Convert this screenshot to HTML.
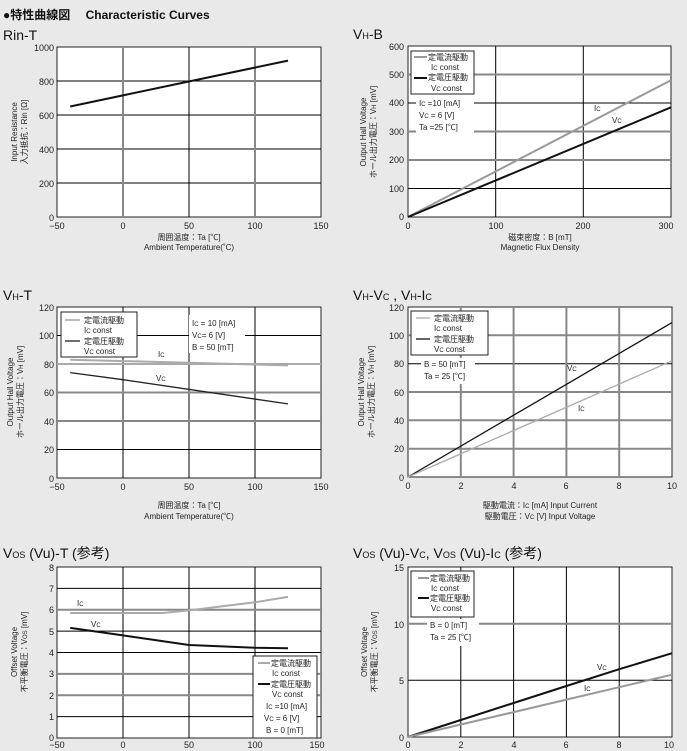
<!DOCTYPE html>
<html><head><meta charset="utf-8"><style>
html,body{margin:0;padding:0;background:#e9e9e9;}
svg{display:block;font-family:"Liberation Sans","Noto Sans CJK JP",sans-serif;}
.t{font-size:9px;fill:#222}
.s{font-size:8px;fill:#222}
.h{font-size:14px;fill:#111}
.g{stroke:#888;stroke-width:2}
.k{stroke:#000;stroke-width:1}
</style></head><body>
<svg width="687" height="751" viewBox="0 0 687 751" xmlns="http://www.w3.org/2000/svg">
<rect width="687" height="751" fill="#e9e9e9"/>
<text x="3" y="19" font-size="12" font-weight="bold" fill="#111">●特性曲線図　 Characteristic Curves</text>

<!-- Chart 1 Rin-T -->
<text x="3" y="40" class="h">Rin-T</text>
<rect x="57" y="47" width="264" height="170" fill="#fff" stroke="#222"/>
<g class="k"><line x1="57" y1="183" x2="321" y2="183"/><line x1="57" y1="149" x2="321" y2="149"/><line x1="57" y1="115" x2="321" y2="115"/><line x1="57" y1="81" x2="321" y2="81"/><line x1="189" y1="47" x2="189" y2="217"/></g>
<g class="g"><line x1="123" y1="47" x2="123" y2="217"/><line x1="255" y1="47" x2="255" y2="217"/></g>
<polyline points="70.2,106.5 288,60.6" fill="none" stroke="#111" stroke-width="2"/>
<g class="t" text-anchor="end"><text x="54" y="51">1000</text><text x="54" y="85">800</text><text x="54" y="119">600</text><text x="54" y="153">400</text><text x="54" y="187">200</text><text x="54" y="221">0</text></g>
<g class="t" text-anchor="middle"><text x="57" y="229">−50</text><text x="123" y="229">0</text><text x="189" y="229">50</text><text x="255" y="229">100</text><text x="321" y="229">150</text>
<text x="189" y="240" class="s">周囲温度：Ta [℃]</text><text x="189" y="250" class="s">Ambient Temperature(˚C)</text></g>
<g class="s" text-anchor="middle" transform="translate(22,132) rotate(-90)"><text x="0" y="-5">Input Resistance</text><text x="0" y="5">入力抵抗：Rin [Ω]</text></g>

<!-- Chart 2 VH-B -->
<text x="353" y="39" class="h">V<tspan font-size="9">H</tspan>-B</text>
<rect x="408" y="46" width="263" height="171" fill="#fff" stroke="#222"/>
<g class="k"><line x1="408" y1="188.5" x2="671" y2="188.5"/><line x1="408" y1="103" x2="671" y2="103"/><line x1="495.7" y1="46" x2="495.7" y2="217"/><line x1="583.3" y1="46" x2="583.3" y2="217"/></g>
<g class="g"><line x1="408" y1="160" x2="671" y2="160"/><line x1="408" y1="131.5" x2="671" y2="131.5"/><line x1="408" y1="74.5" x2="671" y2="74.5"/></g>
<line x1="408" y1="217" x2="671" y2="80.2" stroke="#999" stroke-width="2"/>
<line x1="408" y1="217" x2="671" y2="107.3" stroke="#111" stroke-width="2"/>
<rect x="411" y="51" width="63" height="43" fill="#fff" stroke="#222"/>
<line x1="414" y1="57" x2="427" y2="57" stroke="#999" stroke-width="2"/><line x1="414" y1="78" x2="427" y2="78" stroke="#111" stroke-width="2"/>
<g class="s"><text x="428" y="60">定電流駆動</text><text x="431" y="70">I<tspan font-size="6">C</tspan> const</text><text x="428" y="80">定電圧駆動</text><text x="431" y="91">V<tspan font-size="6">C</tspan> const</text>
<rect x="416" y="97" width="58" height="36" fill="#fff"/>
<text x="419" y="106">I<tspan font-size="6">C</tspan>  =10 [mA]</text><text x="419" y="118">V<tspan font-size="6">C</tspan>  = 6  [V]</text><text x="419" y="130">Ta   =25 [℃]</text>
<text x="594" y="111">I<tspan font-size="6">C</tspan></text><text x="612" y="123">V<tspan font-size="6">C</tspan></text></g>
<g class="t" text-anchor="end"><text x="404" y="50">600</text><text x="404" y="78">500</text><text x="404" y="106">400</text><text x="404" y="135">300</text><text x="404" y="163">200</text><text x="404" y="192">100</text><text x="404" y="220">0</text></g>
<g class="t" text-anchor="middle"><text x="408" y="229">0</text><text x="496" y="229">100</text><text x="583" y="229">200</text><text x="666" y="229">300</text>
<text x="540" y="240" class="s">磁束密度：B [mT]</text><text x="540" y="250" class="s">Magnetic Flux Density</text></g>
<g class="s" text-anchor="middle" transform="translate(370,132) rotate(-90)"><text x="0" y="-4">Output Hall Voltage</text><text x="0" y="6">ホール出力電圧：V<tspan font-size="6">H</tspan> [mV]</text></g>

<!-- Chart 3 VH-T -->
<text x="3" y="300" class="h">V<tspan font-size="9">H</tspan>-T</text>
<rect x="57" y="307" width="264" height="171" fill="#fff" stroke="#222"/>
<g class="k"><line x1="57" y1="449.5" x2="321" y2="449.5"/><line x1="57" y1="335.5" x2="321" y2="335.5"/><line x1="123" y1="307" x2="123" y2="478"/><line x1="189" y1="307" x2="189" y2="478"/><line x1="255" y1="307" x2="255" y2="478"/></g>
<g class="g"><line x1="57" y1="421" x2="321" y2="421"/><line x1="57" y1="392.5" x2="321" y2="392.5"/><line x1="57" y1="364" x2="321" y2="364" stroke="#aaa"/></g>
<line x1="70.2" y1="359.7" x2="288" y2="365.4" stroke="#aaa" stroke-width="2"/>
<polyline points="70.2,372.6 123,379.7 288,403.9" fill="none" stroke="#222" stroke-width="1.3"/>
<rect x="61" y="312" width="76" height="45" fill="#fff" stroke="#222"/>
<line x1="65" y1="320" x2="80" y2="320" stroke="#bbb" stroke-width="2"/><line x1="65" y1="341" x2="80" y2="341" stroke="#222" stroke-width="1.3"/>
<g class="s"><text x="84" y="323">定電流駆動</text><text x="84" y="333">I<tspan font-size="6">C</tspan> const</text><text x="84" y="344">定電圧駆動</text><text x="84" y="354">V<tspan font-size="6">C</tspan> const</text>
<rect x="189" y="315" width="56" height="38" fill="#fff"/>
<text x="192" y="326">I<tspan font-size="6">C</tspan> = 10 [mA]</text><text x="192" y="338">V<tspan font-size="6">C</tspan>=  6  [V]</text><text x="192" y="350">B  = 50 [mT]</text>
<text x="158" y="357">I<tspan font-size="6">C</tspan></text><text x="156" y="381">V<tspan font-size="6">C</tspan></text></g>
<g class="t" text-anchor="end"><text x="54" y="311">120</text><text x="54" y="339">100</text><text x="54" y="368">80</text><text x="54" y="396">60</text><text x="54" y="425">40</text><text x="54" y="453">20</text><text x="54" y="482">0</text></g>
<g class="t" text-anchor="middle"><text x="57" y="490">−50</text><text x="123" y="490">0</text><text x="189" y="490">50</text><text x="255" y="490">100</text><text x="321" y="490">150</text>
<text x="189" y="508" class="s">周囲温度：Ta [℃]</text><text x="189" y="519" class="s">Ambient Temperature(℃)</text></g>
<g class="s" text-anchor="middle" transform="translate(13,392) rotate(-90)"><text x="0" y="0">Output Hall Voltage</text><text x="0" y="10">ホール出力電圧：V<tspan font-size="6">H</tspan> [mV]</text></g>

<!-- Chart 4 VH-VC, VH-IC -->
<text x="353" y="300" class="h">V<tspan font-size="9">H</tspan>-V<tspan font-size="9">C</tspan> , V<tspan font-size="9">H</tspan>-I<tspan font-size="9">C</tspan></text>
<rect x="408" y="307" width="264" height="170" fill="#fff" stroke="#222"/>
<g class="k"><line x1="408" y1="363.7" x2="672" y2="363.7"/></g>
<g class="g"><line x1="408" y1="448.7" x2="672" y2="448.7"/><line x1="408" y1="420.3" x2="672" y2="420.3"/><line x1="408" y1="392" x2="672" y2="392"/><line x1="408" y1="335.3" x2="672" y2="335.3"/>
<line x1="460.8" y1="307" x2="460.8" y2="477"/><line x1="513.6" y1="307" x2="513.6" y2="477"/><line x1="566.4" y1="307" x2="566.4" y2="477"/><line x1="619.2" y1="307" x2="619.2" y2="477"/></g>
<line x1="408" y1="477" x2="672" y2="322.6" stroke="#111" stroke-width="1.3"/>
<line x1="408" y1="477" x2="672" y2="360.8" stroke="#aaa" stroke-width="1.3"/>
<rect x="411" y="311" width="77" height="44" fill="#fff" stroke="#222"/>
<line x1="416" y1="318" x2="430" y2="318" stroke="#aaa" stroke-width="1.3"/><line x1="416" y1="339" x2="430" y2="339" stroke="#111" stroke-width="1.3"/>
<g class="s"><text x="434" y="321">定電流駆動</text><text x="434" y="331">I<tspan font-size="6">C</tspan> const</text><text x="434" y="342">定電圧駆動</text><text x="434" y="352">V<tspan font-size="6">C</tspan> const</text>
<rect x="421" y="358" width="54" height="26" fill="#fff"/>
<text x="424" y="367">B  = 50 [mT]</text><text x="424" y="379">Ta = 25 [℃]</text>
<text x="567" y="371">V<tspan font-size="6">C</tspan></text><text x="578" y="411">I<tspan font-size="6">C</tspan></text></g>
<g class="t" text-anchor="end"><text x="404" y="311">120</text><text x="404" y="339">100</text><text x="404" y="367">80</text><text x="404" y="396">60</text><text x="404" y="424">40</text><text x="404" y="452">20</text><text x="404" y="481">0</text></g>
<g class="t" text-anchor="middle"><text x="408" y="489">0</text><text x="461" y="489">2</text><text x="514" y="489">4</text><text x="566" y="489">6</text><text x="619" y="489">8</text><text x="672" y="489">10</text>
<text x="540" y="508" class="s">駆動電流：I<tspan font-size="6">C</tspan> [mA]  Input Current</text><text x="540" y="519" class="s">駆動電圧：V<tspan font-size="6">C</tspan> [V]  Input Voltage</text></g>
<g class="s" text-anchor="middle" transform="translate(364,392) rotate(-90)"><text x="0" y="0">Output Hall Voltage</text><text x="0" y="10">ホール出力電圧：V<tspan font-size="6">H</tspan> [mV]</text></g>

<!-- Chart 5 Vos-T -->
<text x="3" y="558" class="h">V<tspan font-size="9">OS</tspan> (Vu)-T (参考)</text>
<rect x="57" y="567" width="264" height="171" fill="#fff" stroke="#222"/>
<g class="k"><line x1="57" y1="716.6" x2="321" y2="716.6"/><line x1="57" y1="652.5" x2="321" y2="652.5"/><line x1="57" y1="631.1" x2="321" y2="631.1"/><line x1="57" y1="588.4" x2="321" y2="588.4"/><line x1="123" y1="567" x2="123" y2="738"/><line x1="189" y1="567" x2="189" y2="738"/><line x1="255" y1="567" x2="255" y2="738"/></g>
<g class="g"><line x1="57" y1="695.3" x2="321" y2="695.3"/><line x1="57" y1="673.9" x2="321" y2="673.9"/><line x1="57" y1="609.8" x2="321" y2="609.8"/></g>
<polyline points="70.2,613 162.6,613 189,610.4 255,602.3 288,596.9" fill="none" stroke="#aaa" stroke-width="2"/>
<polyline points="70.2,627.9 123,635.4 189,645 255,647.8 288,648.2" fill="none" stroke="#111" stroke-width="2"/>
<rect x="253" y="656" width="64" height="82" fill="#fff" stroke="#222"/>
<line x1="258" y1="663" x2="270" y2="663" stroke="#aaa" stroke-width="2"/><line x1="258" y1="684" x2="270" y2="684" stroke="#111" stroke-width="2"/>
<g class="s"><text x="271" y="666">定電流駆動</text><text x="272" y="676">I<tspan font-size="6">C</tspan> const</text><text x="271" y="687">定電圧駆動</text><text x="272" y="697">V<tspan font-size="6">C</tspan> const</text>
<text x="266" y="709">I<tspan font-size="6">C</tspan>  =10 [mA]</text><text x="264" y="721">V<tspan font-size="6">C</tspan>  = 6  [V]</text><text x="266" y="733">B   = 0  [mT]</text>
<text x="77" y="606">I<tspan font-size="6">C</tspan></text><text x="91" y="627">V<tspan font-size="6">C</tspan></text></g>
<g class="t" text-anchor="end"><text x="54" y="571">8</text><text x="54" y="592">7</text><text x="54" y="613">6</text><text x="54" y="635">5</text><text x="54" y="656">4</text><text x="54" y="677">3</text><text x="54" y="699">2</text><text x="54" y="720">1</text><text x="54" y="741">0</text></g>
<g class="t" text-anchor="middle"><text x="57" y="748">−50</text><text x="123" y="748">0</text><text x="189" y="748">50</text><text x="255" y="748">100</text><text x="317" y="748">150</text></g>
<g class="s" text-anchor="middle" transform="translate(17,652) rotate(-90)"><text x="0" y="0">Offset Voltage</text><text x="0" y="10">不平衡電圧：V<tspan font-size="6">OS</tspan> [mV]</text></g>

<!-- Chart 6 -->
<text x="353" y="558" class="h">V<tspan font-size="9">OS</tspan> (Vu)-V<tspan font-size="9">C</tspan>, V<tspan font-size="9">OS</tspan> (Vu)-I<tspan font-size="9">C</tspan> (参考)</text>
<rect x="408" y="567" width="264" height="170" fill="#fff" stroke="#222"/>
<g class="k"><line x1="408" y1="680.3" x2="672" y2="680.3"/><line x1="460.8" y1="567" x2="460.8" y2="737"/><line x1="513.6" y1="567" x2="513.6" y2="737"/><line x1="566.4" y1="567" x2="566.4" y2="737"/><line x1="619.2" y1="567" x2="619.2" y2="737"/></g>
<g class="g"><line x1="408" y1="623.7" x2="672" y2="623.7"/></g>
<polyline points="408,737 460.8,720 513.6,703 566.4,686 619.2,669.2 672,653.2" fill="none" stroke="#111" stroke-width="2"/>
<polyline points="408,737 460.8,724.5 513.6,712.1 566.4,699.6 619.2,687.2 672,674.7" fill="none" stroke="#999" stroke-width="2"/>
<rect x="411" y="571" width="63" height="46" fill="#fff" stroke="#222"/>
<line x1="418" y1="578" x2="429" y2="578" stroke="#999" stroke-width="2"/><line x1="418" y1="598" x2="429" y2="598" stroke="#111" stroke-width="2"/>
<g class="s"><text x="430" y="581">定電流駆動</text><text x="431" y="591">I<tspan font-size="6">C</tspan> const</text><text x="430" y="601">定電圧駆動</text><text x="431" y="611">V<tspan font-size="6">C</tspan> const</text>
<rect x="427" y="619" width="52" height="27" fill="#fff"/>
<text x="430" y="628">B = 0 [mT]</text><text x="430" y="640">Ta = 25 [℃]</text>
<text x="597" y="670">V<tspan font-size="6">C</tspan></text><text x="584" y="691">I<tspan font-size="6">C</tspan></text></g>
<g class="t" text-anchor="end"><text x="404" y="571">15</text><text x="404" y="628">10</text><text x="404" y="684">5</text><text x="404" y="741">0</text></g>
<g class="t" text-anchor="middle"><text x="408" y="748">0</text><text x="461" y="748">2</text><text x="514" y="748">4</text><text x="566" y="748">6</text><text x="619" y="748">8</text><text x="669" y="748">10</text></g>
<g class="s" text-anchor="middle" transform="translate(367,652) rotate(-90)"><text x="0" y="0">Offset Voltage</text><text x="0" y="10">不平衡電圧：V<tspan font-size="6">OS</tspan> [mV]</text></g>
</svg>
</body></html>
